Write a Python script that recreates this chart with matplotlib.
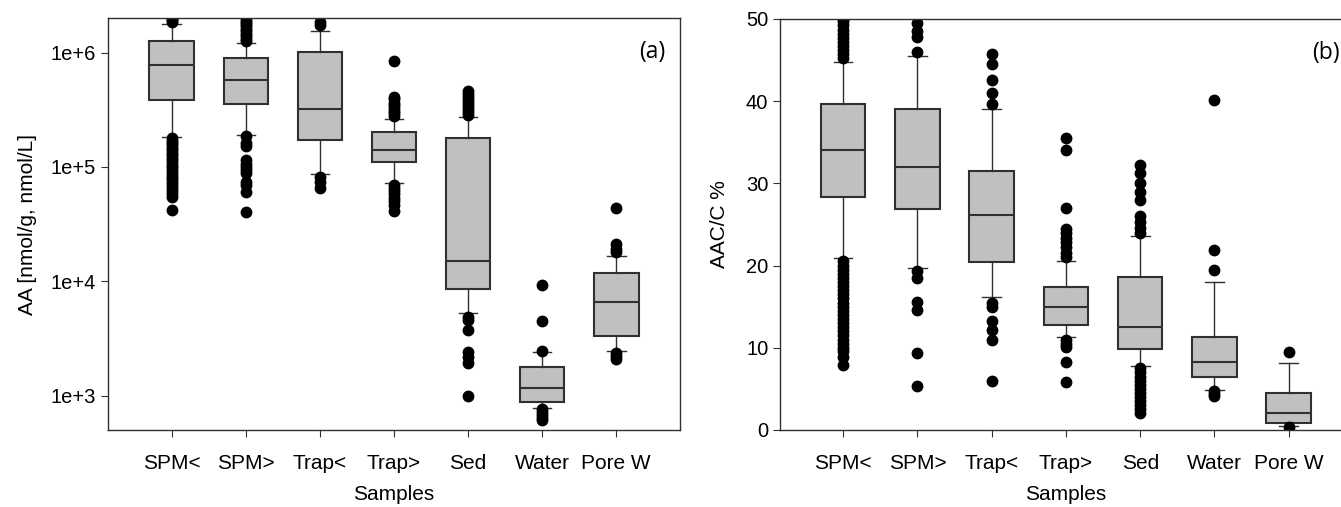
import numpy as np
import matplotlib.pyplot as plt

plt.rcParams['font.family'] = ['Liberation Sans', 'DejaVu Sans']

samples = ['SPM<', 'SPM>', 'Trap<', 'Trap>', 'Sed', 'Water', 'Pore W']

# panel (a): AA concentration, box statistics
aa_q1 = [3.83e5, 3.53e5, 1.71e5, 1.10e5, 8.5e3, 873, 3.32e3]
aa_med = [7.8e5, 5.74e5, 3.24e5, 1.42e5, 1.51e4, 1.16e3, 6.6e3]
aa_q3 = [1.27e6, 9.0e5, 1.02e6, 2.04e5, 1.80e5, 1.79e3, 1.17e4]
aa_lo = [1.83e5, 1.9e5, 8.7e4, 7.2e4, 5.3e3, 783, 2.47e3]
aa_hi = [1.78e6, 1.22e6, 1.55e6, 2.61e5, 2.76e5, 2.39e3, 1.66e4]
aa_out = [
    [1.85e6, 1.92e6, 1.97e6,
     1.78e5, 1.7e5, 1.62e5, 1.55e5, 1.47e5, 1.4e5, 1.33e5, 1.26e5, 1.2e5,
     1.14e5, 1.08e5, 1.02e5, 9.7e4, 9.2e4, 8.7e4, 8.2e4, 7.8e4, 7.4e4,
     7.0e4, 6.6e4, 6.2e4, 5.8e4, 5.5e4, 4.2e4],
    [1.27e6, 1.33e6, 1.4e6, 1.47e6, 1.55e6, 1.62e6, 1.7e6, 1.78e6, 1.86e6, 1.93e6,
     1.85e5, 1.61e5, 1.52e5, 1.15e5, 1.07e5, 1.0e5, 9.4e4, 8.8e4, 7.4e4, 7.0e4,
     6.0e4, 4.0e4],
    [1.75e6, 1.87e6, 8.2e4, 7.4e4, 6.5e4],
    [2.8e5, 2.95e5, 3.1e5, 3.25e5, 3.45e5, 3.65e5, 3.9e5, 4.1e5, 8.5e5,
     7.0e4, 6.6e4, 6.2e4, 5.8e4, 5.4e4, 5.0e4, 4.6e4, 4.1e4],
    [2.85e5, 3.0e5, 3.2e5, 3.4e5, 3.6e5, 3.85e5, 4.1e5, 4.35e5, 4.6e5,
     4.9e3, 4.6e3, 3.75e3, 2.42e3, 2.19e3, 1.92e3, 1.0e3],
    [2.45e3, 4.5e3, 9.3e3, 760, 720, 680, 640, 610],
    [1.8e4, 1.9e4, 2.1e4, 4.36e4, 2.35e3, 2.2e3, 2.1e3],
]

# panel (b): AAC/C %
ac_q1 = [28.3, 26.9, 20.4, 12.8, 9.9, 6.4, 0.8]
ac_med = [34.1, 32.0, 26.2, 14.9, 12.5, 8.3, 2.0]
ac_q3 = [39.6, 39.0, 31.5, 17.4, 18.6, 11.3, 4.5]
ac_lo = [20.9, 19.7, 16.2, 11.3, 7.8, 4.9, 0.5]
ac_hi = [44.8, 45.5, 39.1, 20.5, 23.6, 18.0, 8.1]
ac_out = [
    [45.2, 45.7, 46.2, 46.7, 47.2, 47.7, 48.2, 48.7, 49.2, 49.7, 50.0,
     20.5, 20.0, 19.5, 19.0, 18.5, 18.0, 17.5, 17.0, 16.5, 16.0, 15.5, 15.0,
     14.5, 14.0, 13.5, 13.0, 12.5, 12.0, 11.5, 11.0, 10.5, 10.0, 9.6, 8.9, 7.9],
    [46.0, 47.8, 48.5, 49.5, 19.3, 18.5, 15.6, 14.6, 9.4, 5.4],
    [39.7, 41.0, 42.6, 44.5, 45.7, 15.4, 15.0, 13.3, 12.2, 10.9, 6.0],
    [21.0, 21.5, 22.3, 22.9, 23.4, 23.9, 24.5, 27.0, 34.1, 35.5,
     10.9, 10.5, 10.1, 8.3, 5.8],
    [24.0, 24.6, 25.3, 26.0, 28.0, 29.0, 30.0, 31.2, 32.2,
     7.5, 7.0, 6.5, 6.0, 5.5, 5.0, 4.5, 4.0, 3.5, 3.0, 2.5, 2.0],
    [19.4, 21.9, 40.1, 4.7, 4.4, 4.1],
    [9.5, 0.35],
]

edge = '#303030'
pos = np.arange(1, len(samples) + 1)


def draw(ax, q1, med, q3, lo, hi, out):
    stats = []
    for i in range(len(samples)):
        stats.append(dict(q1=q1[i], med=med[i], q3=q3[i], whislo=lo[i],
                          whishi=hi[i], fliers=out[i]))
    ax.bxp(stats, positions=pos, widths=0.6, capwidths=0.25,
           patch_artist=True, showfliers=True,
           boxprops=dict(facecolor='#c0c0c0', edgecolor=edge, linewidth=1.5),
           medianprops=dict(color=edge, linewidth=1.5),
           whiskerprops=dict(color=edge, linewidth=1.0),
           capprops=dict(color=edge, linewidth=1.0),
           flierprops=dict(marker='o', markerfacecolor='black',
                           markeredgecolor='black', markersize=7.5))
    ax.set_xticks(pos)
    ax.set_xticklabels(samples, fontsize=15)
    ax.set_xlabel('Samples', fontsize=15, labelpad=9)
    ax.tick_params(axis='y', labelsize=14.5, length=5, color=edge)
    ax.tick_params(axis='x', length=5, color=edge, pad=12)
    for s in ax.spines.values():
        s.set_color(edge)
        s.set_linewidth(1.0)


fig = plt.figure(figsize=(13.41, 5.07), dpi=100)

ax1 = fig.add_axes([0.0805, 0.152, 0.4266, 0.812])
draw(ax1, aa_q1, aa_med, aa_q3, aa_lo, aa_hi, aa_out)
ax1.set_yscale('log')
ax1.set_ylim(500, 2e6)
ax1.set_xlim(0.14, 7.86)
ax1.set_yticks([1e3, 1e4, 1e5, 1e6])
ax1.set_yticklabels(['1e+3', '1e+4', '1e+5', '1e+6'])
ax1.minorticks_off()
ax1.set_ylabel('AA [nmol/g, nmol/L]', fontsize=15, labelpad=10)
ax1.text(0.974, 0.917, '(a)', transform=ax1.transAxes, ha='right', va='center',
         fontsize=16.5, family=['Open Sans', 'DejaVu Sans'])

ax2 = fig.add_axes([0.5817, 0.152, 0.4264, 0.8107])
draw(ax2, ac_q1, ac_med, ac_q3, ac_lo, ac_hi, ac_out)
ax2.set_ylim(0, 50)
ax2.set_xlim(0.15, 7.85)
ax2.set_yticks([0, 10, 20, 30, 40, 50])
ax2.set_ylabel('AAC/C %', fontsize=15, labelpad=12)
ax2.text(0.979, 0.917, '(b)', transform=ax2.transAxes, ha='right', va='center',
         fontsize=16.5, family=['Open Sans', 'DejaVu Sans'])

fig.savefig('out.png', dpi=100)
